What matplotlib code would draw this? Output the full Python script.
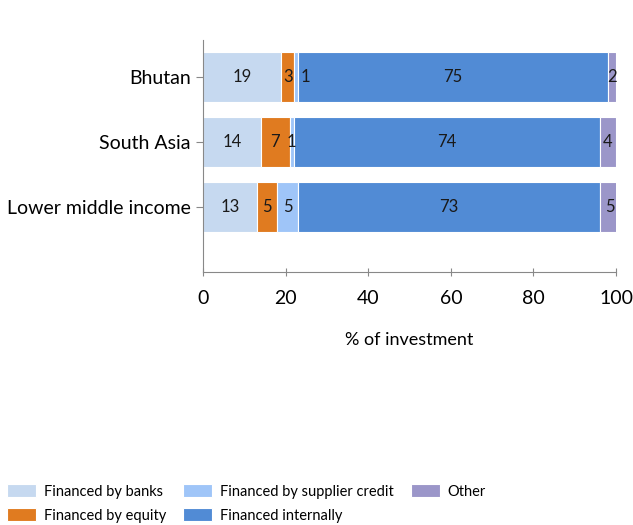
import matplotlib
matplotlib.use("Agg")
import matplotlib.pyplot as plt
import numpy as np

plt.rcParams['font.family'] = ['Lato', 'DejaVu Sans']

categories = ["Lower middle income", "South Asia", "Bhutan"]
series_names = ["Financed by banks", "Financed by equity", "Financed by supplier credit",
                "Financed internally", "Other"]
banks = [13, 14, 19]
equity = [5, 7, 3]
supplier = [5, 1, 1]
internal = [73, 74, 75]
other = [5, 4, 2]
colors = ["#c6d9f0", "#e07b20", "#9fc5f8", "#518bd5", "#9b96c9"]

fig = plt.figure(figsize=(6.33, 5.25), dpi=100)
ax = fig.add_axes([0.3207, 0.4819, 0.6525, 0.4419])

y = np.arange(len(categories))
left = np.zeros(len(categories))
prev = np.full(len(categories), 100.0)
for vals, name, c in zip([banks, equity, supplier, internal, other], series_names, colors):
    v = np.array(vals, dtype=float)
    ax.barh(y, v, left=left, height=0.78, color=c, label=name,
            edgecolor='white', linewidth=0.8)
    for yi, (l, w) in enumerate(zip(left, v)):
        dx = 7 if (w < 2 and prev[yi] < 5) else 0
        ax.annotate(f"{int(w)}", (l + w / 2, yi), xytext=(dx, 0),
                    textcoords='offset points', ha='center', va='center',
                    fontsize=12, color='#1a1a1a')
    left += v
    prev = v

ax.set_xlim(0, 100)
ax.set_ylim(-1.0, 2.57)
ax.set_yticks(y)
ax.set_yticklabels(categories, fontsize=14)
ax.set_xticks([0, 20, 40, 60, 80, 100])
ax.tick_params(axis='x', labelsize=14, direction='inout', length=6, color='#888888', pad=10)
ax.tick_params(axis='y', direction='out', length=5, color='#888888', pad=4)
ax.set_xlabel("% of investment", fontsize=13, labelpad=18)
for s in ['top', 'right']:
    ax.spines[s].set_visible(False)
for s in ['left', 'bottom']:
    ax.spines[s].set_color('#888888')

handles, labels = ax.get_legend_handles_labels()
fig.legend(handles, labels, loc='lower left', bbox_to_anchor=(0.008, 0.0), ncol=3,
           frameon=False, fontsize=10.5, handlelength=2.0, handleheight=1.0,
           columnspacing=1.18, handletextpad=0.5, labelspacing=0.65,
           borderpad=0.15, borderaxespad=0.0)

fig.savefig("out.png", dpi=100)
